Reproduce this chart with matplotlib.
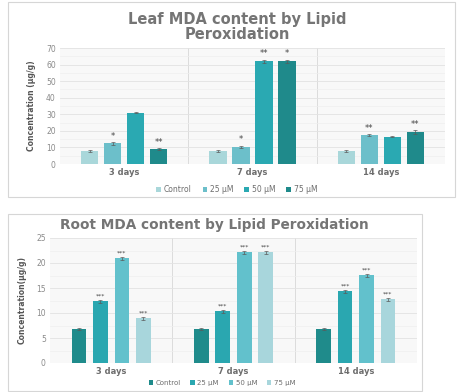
import numpy as np
import matplotlib.pyplot as plt
from matplotlib.patches import Rectangle
from matplotlib.ticker import MultipleLocator

days = ["3 days", "7 days", "14 days"]
treatments = ["Control", "25 µM", "50 µM", "75 µM"]

leaf_values = {
    "Control": [8.0, 8.0, 8.0],
    "25 µM": [12.5, 10.5, 17.5],
    "50 µM": [31.0, 62.0, 16.5],
    "75 µM": [9.0, 62.0, 19.5],
}
leaf_errors = {
    "Control": [0.6, 0.6, 0.6],
    "25 µM": [0.8, 0.6, 0.8],
    "50 µM": [0.5, 1.0, 0.5],
    "75 µM": [0.6, 1.0, 1.2],
}
leaf_marks = {
    "Control": ["", "", ""],
    "25 µM": ["*", "*", "**"],
    "50 µM": ["", "**", ""],
    "75 µM": ["**", "*", "**"],
}

root_values = {
    "Control": [6.8, 6.8, 6.8],
    "25 µM": [12.4, 10.4, 14.4],
    "50 µM": [21.0, 22.2, 17.6],
    "75 µM": [9.0, 22.2, 12.8],
}
root_errors = {
    "Control": [0.2, 0.2, 0.2],
    "25 µM": [0.3, 0.3, 0.3],
    "50 µM": [0.3, 0.3, 0.3],
    "75 µM": [0.3, 0.3, 0.3],
}
root_marks = {
    "Control": ["", "", ""],
    "25 µM": ["***", "***", "***"],
    "50 µM": ["***", "***", "***"],
    "75 µM": ["***", "***", "***"],
}

leaf_colors = ["#a9d7da", "#6cbfca", "#2aa9b2", "#1f8a8b"]
root_colors = ["#1f8b8b", "#2aa7b0", "#62c1cc", "#a8d6dc"]

GREY = "#6e6e6e"
W, H = 459, 392
fig = plt.figure(figsize=(W / 100, H / 100), dpi=100)
fig.patch.set_facecolor("white")


def fx(px):
    return px / W


def fy(py):
    return 1 - py / H


# panel frames
for (x0, y0, x1, y1) in [(8, 2, 455, 197), (8, 214, 422, 391)]:
    fig.add_artist(Rectangle((fx(x0), fy(y1)), fx(x1) - fx(x0), fy(y0) - fy(y1),
                             transform=fig.transFigure, fill=False,
                             edgecolor="#d6d6d6", linewidth=0.8))


def draw_panel(ax, values, errors, marks, colors, ymax, major, minor,
               bar_w, step, mark_size, ylabel):
    x = np.arange(len(days))
    ax.set_facecolor("#f8f8f8")
    offsets = (np.arange(len(treatments)) - 1.5) * step
    for i, t in enumerate(treatments):
        xs = x + offsets[i]
        ax.bar(xs, values[t], width=bar_w, color=colors[i], label=t, zorder=3)
        ax.errorbar(xs, values[t], yerr=errors[t], fmt="none", ecolor="#5a5a5a",
                    elinewidth=0.5, capsize=1.2, capthick=0.5, zorder=4)
        for xi, v, e, m in zip(xs, values[t], errors[t], marks[t]):
            if m:
                ax.text(xi, v + e + ymax * 0.01, m, ha="center", va="bottom",
                        fontsize=mark_size, color="#444444", zorder=5)
    ax.set_xlim(-0.5, len(days) - 0.5)
    ax.set_ylim(0, ymax)
    ax.yaxis.set_major_locator(MultipleLocator(major))
    ax.yaxis.set_minor_locator(MultipleLocator(minor))
    ax.grid(axis="y", which="major", color="#e2e2e2", linewidth=0.6, zorder=0)
    ax.grid(axis="y", which="minor", color="#eeeeee", linewidth=0.5, zorder=0)
    for b in [0.5, 1.5]:
        ax.axvline(b, color="#dcdcdc", linewidth=0.7, zorder=1)
    ax.set_xticks(x)
    ax.set_xticklabels(days, fontsize=6, color=GREY, fontweight="bold")
    ax.tick_params(axis="both", which="both", length=0, pad=3)
    ax.tick_params(axis="y", labelsize=5.5, labelcolor="#8a8a8a")
    for s in ax.spines.values():
        s.set_visible(False)
    ax.set_ylabel(ylabel, fontsize=5.5, color="#555555", fontweight="bold", labelpad=7)


ax1 = fig.add_axes([fx(60), fy(164), fx(445) - fx(60), fy(48) - fy(164)])
draw_panel(ax1, leaf_values, leaf_errors, leaf_marks, leaf_colors, 70, 10, 5,
           0.135, 0.18, 6, "Concentration (µg/g)")
fig.text(fx(237), fy(27), "Leaf MDA content by Lipid\nPeroxidation", ha="center",
         va="center", fontsize=10.5, fontweight="bold", color="#757575",
         linespacing=1.0)
h1, l1 = ax1.get_legend_handles_labels()
fig.legend(h1, l1, loc="center", bbox_to_anchor=(fx(237), fy(190)), ncol=4,
           frameon=False, fontsize=5.5, labelcolor=GREY, handlelength=0.6,
           handleheight=0.6, handletextpad=0.4, columnspacing=1.4)

ax2 = fig.add_axes([fx(50), fy(363), fx(417) - fx(50), fy(238) - fy(363)])
draw_panel(ax2, root_values, root_errors, root_marks, root_colors, 25, 5, 2.5,
           0.12, 0.175, 4.5, "Concentration(µg/g)")
fig.text(fx(214), fy(225), "Root MDA content by Lipid Peroxidation", ha="center",
         va="center", fontsize=9.8, fontweight="bold", color="#757575")
h2, l2 = ax2.get_legend_handles_labels()
fig.legend(h2, l2, loc="center", bbox_to_anchor=(fx(222), fy(383)), ncol=4,
           frameon=False, fontsize=5, labelcolor=GREY, handlelength=0.6,
           handleheight=0.6, handletextpad=0.4, columnspacing=1.4)

fig.savefig("out.png", dpi=100, facecolor="white")
